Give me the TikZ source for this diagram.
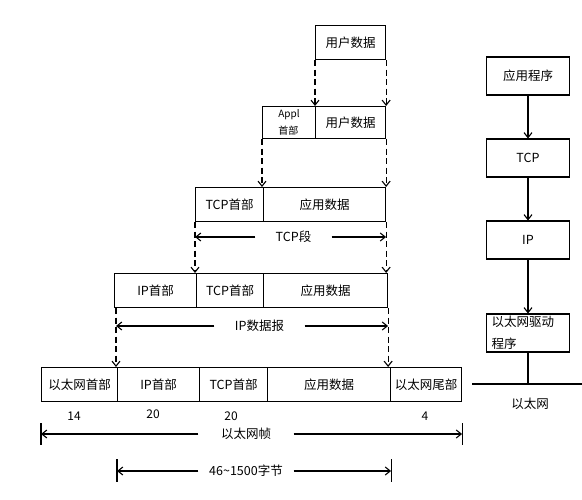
\documentclass[tikz,border=0pt]{standalone}
\usepackage{fontspec}
\setmainfont{Noto Sans CJK SC}
\usetikzlibrary{calc,arrows.meta}

\begin{document}
\begin{tikzpicture}[x=1pt,y=-1pt,line width=1.1pt,
  cell/.style={draw, anchor=north west, minimum height=34pt, inner sep=0pt, font=\fontsize{12.5}{15}\selectfont},
  layer/.style={draw, minimum width=83pt, minimum height=38pt, inner sep=2pt, font=\fontsize{12.5}{15}\selectfont},
  lbl/.style={inner sep=0pt, font=\fontsize{12.5}{15}\selectfont},
  down/.style={dash pattern=on 6pt off 3.5pt, -{Straight Barb[length=5pt,width=8pt]}},
  span/.style={-{Straight Barb[length=5pt,width=8pt]}}]
\useasboundingbox (0,0) rectangle (582,500);
% layers of the packet
\node [cell, minimum width=70pt] (u1) at (315,25) {用户数据};
\node [cell, minimum width=53pt, minimum height=32pt, align=left, font=\fontsize{10}{17}\selectfont] (ah) at (262,106) {Appl\\首部};
\node [cell, minimum width=70pt, minimum height=32pt] (u2) at (315,106) {用户数据};
\node [cell, minimum width=68pt] (th3) at (195,187) {TCP首部};
\node [cell, minimum width=122pt] (ad3) at (263,187) {应用数据};
\node [cell, minimum width=82pt] (ih4) at (114,273) {IP首部};
\node [cell, minimum width=67pt] (th4) at (196,273) {TCP首部};
\node [cell, minimum width=124pt] (ad4) at (263,273) {应用数据};
\node [cell, minimum width=76pt] (eh) at (41,367) {以太网首部};
\node [cell, minimum width=82pt] (ih5) at (117,367) {IP首部};
\node [cell, minimum width=68pt] (th5) at (199,367) {TCP首部};
\node [cell, minimum width=123pt] (ad5) at (267,367) {应用数据};
\node [cell, minimum width=71pt] (et) at (390,367) {以太网尾部};
% encapsulation
\draw [down] (u1.south west) -- (u2.north west);
\draw [down] (u1.south east) -- (u2.north east);
\draw [down] (ah.south west) -- (ah.south west |- th3.north);
\draw [down] (u2.south east) -- (u2.south east |- ad3.north);
\draw [down] (th3.south west) -- (th3.south west |- th4.north);
\draw [down] (ad3.south east) -- (ad3.south east |- ad4.north);
\draw [down] ($(ih4.south west)+(2,0)$) -- ($(ih4.south west |- ih5.north)+(2,0)$);
\draw [down] (ad4.south east) -- (ad4.south east |- ad5.north);
% spans
\node [lbl, minimum width=75pt] (tcpseg) at (293.5,237) {TCP段};
\draw [span] (tcpseg.west) -- (th3.west |- tcpseg);
\draw [span] (tcpseg.east) -- (ad3.east |- tcpseg);
\node [lbl, minimum width=89pt] (ipdg) at (259.5,326) {IP数据报};
\draw [span] (ipdg.west) -- ($(ih4.west |- ipdg)+(2,0)$);
\draw [span] (ipdg.east) -- (ad4.east |- ipdg);
\node [lbl, font=\fontsize{12}{14}\selectfont] (n14) at (74,416) {14};
\node [lbl, font=\fontsize{12}{14}\selectfont] (n20a) at (153,414) {20};
\node [lbl, font=\fontsize{12}{14}\selectfont] (n20b) at (231,416) {20};
\node [lbl, font=\fontsize{12}{14}\selectfont] (n4) at (425,416) {4};
\node [lbl, minimum width=94pt] (frame) at (246,434) {以太网帧};
\draw [span] (frame.west) -- (eh.west |- frame);
\draw [span] (frame.east) -- (et.east |- frame);
\draw ($(eh.west |- frame)+(0,-11)$) -- ++(0,22);
\draw ($(et.east |- frame)+(0,-11)$) -- ++(0,22);
\node [lbl, minimum width=94pt] (payload) at (246,471) {46\textasciitilde1500字节};
\draw [span] (payload.west) -- (ih5.west |- payload);
\draw [span] (payload.east) -- (ad5.east |- payload);
\draw ($(ih5.west |- payload)+(0,-12)$) -- ++(0,23);
\draw ($(ad5.east |- payload)+(0,-12)$) -- ++(0,23);
% protocol stack
\node [layer] (app) at (528,76) {应用程序};
\node [layer] (tcp) at (528,158) {TCP};
\node [layer] (ip) at (528,240) {IP};
\node [layer, align=left, text width=73pt, font=\fontsize{12.5}{22}\selectfont] (drv) at (528,333) {以太网驱动\\程序};
\draw [span] (app) -- (tcp);
\draw [span] (tcp) -- (ip);
\draw [span] (ip) -- (drv);
\coordinate (busL) at (472,384);
\coordinate (busR) at (582,384);
\draw (busL) -- (busR);
\draw (drv.south) -- (drv.south |- busL);
\node [lbl] (eth) at (530,404) {以太网};
\end{tikzpicture}
\end{document}
